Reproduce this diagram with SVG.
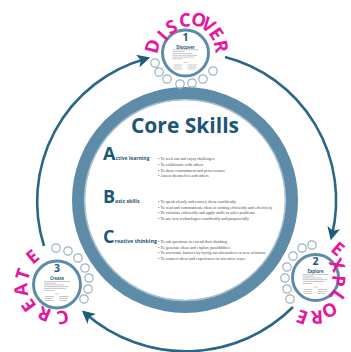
<svg xmlns="http://www.w3.org/2000/svg" width="351" height="352" viewBox="0 0 351 352">
<style>
.ring{fill:none;stroke:#5e8ba7}
.node-ring{fill:#fff;stroke:#5e8ba7;stroke-width:3}
.bub{fill:#fff;stroke:#9db0bd;stroke-width:1.2}
.mag{font-family:"Open Sans","Liberation Sans",sans-serif;font-weight:bold;font-size:18.5px;fill:#e6169e;text-anchor:middle;dominant-baseline:central}
.num{font-family:"Open Sans","Liberation Sans",sans-serif;font-weight:bold;font-size:10.5px;fill:#1d5a7b;text-anchor:middle}
.ttl{font-family:"Open Sans","Liberation Sans",sans-serif;font-weight:bold;font-size:4.3px;fill:#1d5a7b;text-anchor:middle}
.ln{fill:#b4b4b4}
.conn{fill:none;stroke:#2a6787;stroke-width:2.6}
.big{font-family:"Open Sans","Liberation Sans",sans-serif;font-weight:bold;fill:#1c5677}
.bul{font-family:"Liberation Serif",serif;font-size:4.1px;fill:#4a4a4a}
</style>
<defs>
<marker id="ah" viewBox="0 0 12 12" refX="7" refY="6" markerWidth="13" markerHeight="13" markerUnits="userSpaceOnUse" orient="auto">
<path d="M0,0 L12,6 L0,12 L3,6 z" fill="#1e5a7a"/>
</marker>
<g id="tiny">
<rect class="ln" x="-13" y="-3.5" width="26" height="0.7"/>
<rect class="ln" x="-13" y="-1.7" width="12" height="0.7"/>
<rect class="ln" x="-13" y="0.1" width="20" height="0.7"/>
<rect class="ln" x="-13" y="1.9" width="25" height="0.7"/>
<rect class="ln" x="-13" y="3.7" width="22" height="0.7"/>
<rect class="ln" x="-13" y="5.5" width="10" height="0.7"/>
<rect class="ln" x="-2" y="9.2" width="4" height="0.7"/>
<rect class="ln" x="-12" y="11.6" width="9" height="0.7"/>
<rect class="ln" x="2" y="11.6" width="10" height="0.7"/>
<rect class="ln" x="-12" y="13.6" width="8" height="0.7"/>
<rect class="ln" x="2" y="13.6" width="9" height="0.7"/>
<rect class="ln" x="-12" y="15.6" width="9" height="0.7"/>
<rect class="ln" x="2" y="15.6" width="8" height="0.7"/>
</g>
</defs>
<rect width="351" height="352" fill="#fff"/>

<g id="connectors">
<path class="conn" d="M44,246 A148,148 0 0 1 145,59" marker-end="url(#ah)"/>
<path class="conn" d="M225,57 A148,148 0 0 1 332,235" marker-end="url(#ah)"/>
<path class="conn" d="M293,307 A152,152 0 0 1 86,314" marker-end="url(#ah)"/>
</g>

<g id="node-core">
<circle class="ring" cx="185" cy="200" r="106.5" stroke-width="13"/>
<circle cx="185" cy="200" r="100.5" fill="none" stroke="#a7c0d0" stroke-width="1.5"/>
<text class="big" x="185" y="133" font-size="21" text-anchor="middle">Core Skills</text>
<text class="big" x="103" y="160" font-size="18">A<tspan font-size="5">ctive learning</tspan></text>
<text class="bul" x="158" y="160.4">• To seek out and enjoy challenges</text>
<text class="bul" x="158" y="166">• To collaborate with others</text>
<text class="bul" x="158" y="171.6">• To show commitment and perseverance</text>
<text class="bul" x="158" y="177.2">• Assess themselves and others</text>
<text class="big" x="103" y="203" font-size="18">B<tspan font-size="5.2">asic skills</tspan></text>
<text class="bul" x="158" y="203.4">• To speak clearly and convey ideas confidently</text>
<text class="bul" x="158" y="208.9">• To read and communicate ideas in writing efficiently and effectively</text>
<text class="bul" x="158" y="214.4">• To calculate efficiently and apply skills to solve problems</text>
<text class="bul" x="158" y="219.9">• To use new technologies confidently and purposefully</text>
<text class="big" x="103" y="243" font-size="18">C<tspan font-size="5.3">reative thinking</tspan></text>
<text class="bul" x="158" y="243.4">• To ask questions to extend their thinking</text>
<text class="bul" x="158" y="248.9">• To generate ideas and explore possibilities</text>
<text class="bul" x="158" y="254.4">• To overcome barriers by trying out alternatives or new solutions</text>
<text class="bul" x="158" y="259.9">• To connect ideas and experiences in inventive ways</text>
</g>

<g id="node-discover">
<circle class="bub" cx="155" cy="63" r="4.2"/>
<circle class="bub" cx="159" cy="72" r="4.2"/>
<circle class="bub" cx="167" cy="79" r="4.2"/>
<circle class="bub" cx="180" cy="84" r="4.2"/>
<circle class="bub" cx="192" cy="83" r="4.2"/>
<circle class="bub" cx="203" cy="79" r="4.2"/>
<circle class="bub" cx="213" cy="71" r="4.2"/>
<circle class="node-ring" cx="185.5" cy="53" r="23"/>
<text class="num" x="185.5" y="40.8">1</text>
<text class="ttl" x="185.5" y="48.5">Discover</text>
<use href="#tiny" x="185.5" y="53"/>
<text class="mag" transform="translate(151.5,46) rotate(-75)">D</text>
<text class="mag" transform="translate(162,35) rotate(-49)">I</text>
<text class="mag" transform="translate(171,26) rotate(-26)">S</text>
<text class="mag" transform="translate(185,19) rotate(-2)">C</text>
<text class="mag" transform="translate(199,19) rotate(18)">O</text>
<text class="mag" transform="translate(209,24) rotate(35)">V</text>
<text class="mag" transform="translate(217,33) rotate(56)">E</text>
<text class="mag" transform="translate(222,46) rotate(79)">R</text>
</g>

<g id="node-explore">
<circle class="bub" cx="312" cy="245" r="4.2"/>
<circle class="bub" cx="302" cy="248" r="4.2"/>
<circle class="bub" cx="293" cy="256" r="4.2"/>
<circle class="bub" cx="287" cy="267" r="4.2"/>
<circle class="bub" cx="285" cy="278" r="4.2"/>
<circle class="bub" cx="287" cy="289" r="4.2"/>
<circle class="bub" cx="290" cy="299" r="4.2"/>
<circle class="node-ring" cx="315.5" cy="277.5" r="23"/>
<text class="num" x="315.5" y="265.3">2</text>
<text class="ttl" x="315.5" y="273">Explore</text>
<use href="#tiny" x="315.5" y="277.5"/>
<text class="mag" transform="translate(338.5,248) rotate(40)">E</text>
<text class="mag" transform="translate(338,264.5) rotate(64)" font-size="17.5">X</text>
<text class="mag" transform="translate(339.5,281) rotate(95)">P</text>
<text class="mag" transform="translate(338,297) rotate(126)">L</text>
<text class="mag" transform="translate(330,311) rotate(154)">O</text>
<text class="mag" transform="translate(317,318) rotate(177)">R</text>
<text class="mag" transform="translate(302,318) rotate(199)">E</text>
</g>

<g id="node-create">
<circle class="bub" cx="56" cy="248" r="4.2"/>
<circle class="bub" cx="68" cy="251" r="4.2"/>
<circle class="bub" cx="78" cy="258" r="4.2"/>
<circle class="bub" cx="85" cy="268" r="4.2"/>
<circle class="bub" cx="89" cy="278" r="4.2"/>
<circle class="bub" cx="88" cy="289" r="4.2"/>
<circle class="bub" cx="84" cy="299" r="4.2"/>
<circle class="node-ring" cx="57" cy="284.5" r="23.5"/>
<text class="num" x="57" y="272.3">3</text>
<text class="ttl" x="57" y="280">Create</text>
<use href="#tiny" x="57" y="284.5"/>
<text class="mag" transform="translate(63,318) rotate(168)">C</text>
<text class="mag" transform="translate(44,315) rotate(202)">R</text>
<text class="mag" transform="translate(28,306) rotate(234)">E</text>
<text class="mag" transform="translate(20,290) rotate(264)">A</text>
<text class="mag" transform="translate(22,274) rotate(-72)">T</text>
<text class="mag" transform="translate(32,256) rotate(-40)">E</text>
</g>
</svg>
